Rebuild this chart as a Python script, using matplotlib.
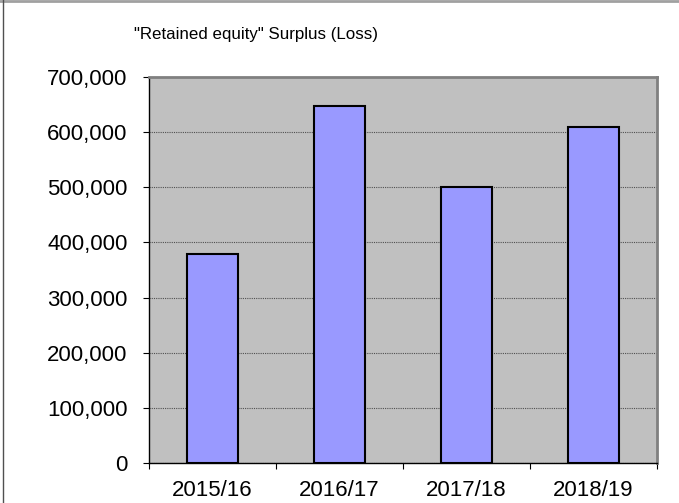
import matplotlib.pyplot as plt
import numpy as np
from matplotlib.lines import Line2D
from matplotlib.ticker import FuncFormatter, MultipleLocator

plt.rcParams["font.family"] = ["Liberation Sans", "DejaVu Sans"]

years = ["2015/16", "2016/17", "2017/18", "2018/19"]
surplus = [379000, 648000, 501000, 609000]

fig = plt.figure(figsize=(6.79, 5.03), dpi=100)
ax = fig.add_axes([149 / 679, 40 / 503, 508 / 679, 386 / 503])
ax.set_facecolor("#C0C0C0")

x = np.arange(len(years))
ax.bar(x, surplus, width=0.4, color="#9999FF", edgecolor="black", linewidth=1.5, zorder=3)

ax.set_xlim(-0.5, len(years) - 0.5)
ax.set_ylim(0, 700000)
ax.yaxis.set_major_locator(MultipleLocator(100000))
ax.yaxis.set_major_formatter(FuncFormatter(lambda v, _: f"{v:,.0f}"))
ax.yaxis.grid(True, color="#505050", linestyle=(0, (1, 1)), linewidth=0.8, zorder=1)

# category ticks sit at the boundaries, labels at the centres
ax.set_xticks(np.arange(len(years) + 1) - 0.5)
ax.set_xticklabels([])
ax.set_xticks(x, minor=True)
ax.set_xticklabels(years, minor=True)
ax.tick_params(axis="x", which="major", direction="out", length=4.5, color="black")
ax.tick_params(axis="x", which="minor", length=0, labelsize=16, pad=12)
ax.tick_params(axis="y", direction="out", length=4.5, labelsize=16, pad=11)

for side in ["left", "bottom"]:
    ax.spines[side].set_color("black")
    ax.spines[side].set_linewidth(1)
for side in ["top", "right"]:
    ax.spines[side].set_color("#808080")
    ax.spines[side].set_linewidth(2)

fig.text(256 / 679, 1 - 34 / 503, '"Retained equity" Surplus (Loss)',
         ha="center", va="center", fontsize=12.2)

# chart area frame
fig.add_artist(Line2D([0, 1], [0.998, 0.998], color="#A0A0A0", linewidth=2))
fig.add_artist(Line2D([3 / 679, 3 / 679], [0, 1], color="#505050", linewidth=1))

fig.savefig("out.png", dpi=100)
